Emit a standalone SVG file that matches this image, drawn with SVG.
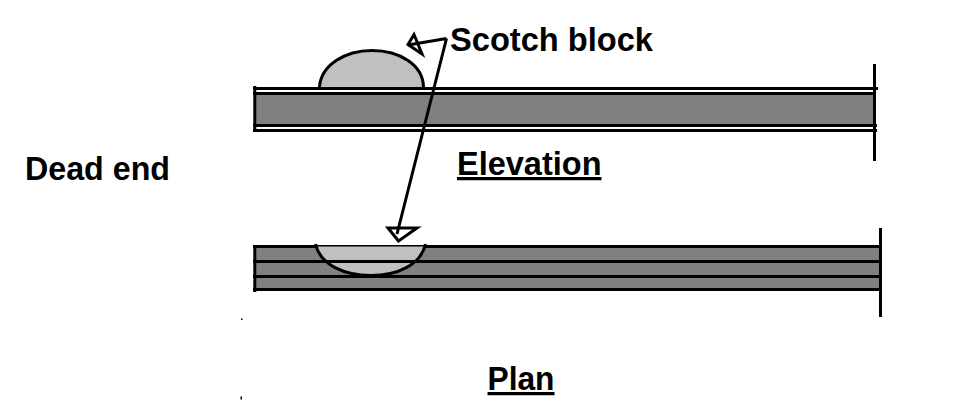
<svg xmlns="http://www.w3.org/2000/svg" width="971" height="419" viewBox="0 0 971 419">
<style>
.lbl{font-family:"Liberation Sans",Arial,sans-serif;font-weight:700;font-size:32.5px;fill:#000}
.u{text-decoration:underline}
.bar{fill:#808080;stroke:none}
.blk{fill:#c0c0c0;stroke:#000;stroke-width:3}
.ln{stroke:#000;stroke-width:3;fill:none}
.head{fill:none;stroke:#000;stroke-width:3;stroke-linejoin:miter}
</style>
<rect width="971" height="419" fill="#fff"/>
<g id="elevation-beam">
<rect class="bar" x="255" y="94" width="619" height="31"/>
<path class="ln" d="M253 88.500H878M253 93.500H876M253 125.500H877M253 130.500H877M254.800 86V132M874.500 64V161"/>
</g>
<g id="elevation-block">
<path class="blk" d="M319.500 87C321 65 345 50.500 372 50.500C400 50.500 423 65 423.500 87"/>
</g>
<g id="plan-beam">
<rect class="bar" x="255" y="246" width="625" height="44"/>
<path class="ln" d="M253 246.500H881M253 261.500H881M253 276.500H881M253 289.500H881M254.800 245V292M880.500 228V317"/>
</g>
<g id="plan-block">
<path d="M316 246.500H425C421 265 397 275.500 371 275.500C345 275.500 320 265 316 246.500Z" fill="#c0c0c0"/>
<path class="ln" d="M315.500 244C320 265 345 275.500 371 275.500C397 275.500 421 265 425.500 244M253 261.500H881"/>
<rect x="364" y="275" width="14" height="3"/>
</g>
<g id="connectors">
<path class="ln" d="M446.500 38.500L408 45M446.500 38.500L397 234"/>
<path class="head" d="M408 44.500L414 34.500L422 54Z"/>
<path class="head" d="M398.500 241L388 228H417Z"/>
</g>
<g id="label-scotch-block"><text class="lbl" x="450" y="51" textLength="203" lengthAdjust="spacingAndGlyphs">Scotch block</text></g>
<g id="label-dead-end"><text class="lbl" x="25" y="180" textLength="145" lengthAdjust="spacingAndGlyphs">Dead end</text></g>
<g id="label-elevation"><text class="lbl u" x="457" y="175" textLength="144.500" lengthAdjust="spacingAndGlyphs">Elevation</text></g>
<g id="label-plan"><text class="lbl u" x="487.500" y="390" textLength="67" lengthAdjust="spacingAndGlyphs">Plan</text></g>
<g id="specks"><rect x="241" y="318.500" width="1.500" height="1.500"/><rect x="240.500" y="396.500" width="1.500" height="3"/></g>
</svg>
